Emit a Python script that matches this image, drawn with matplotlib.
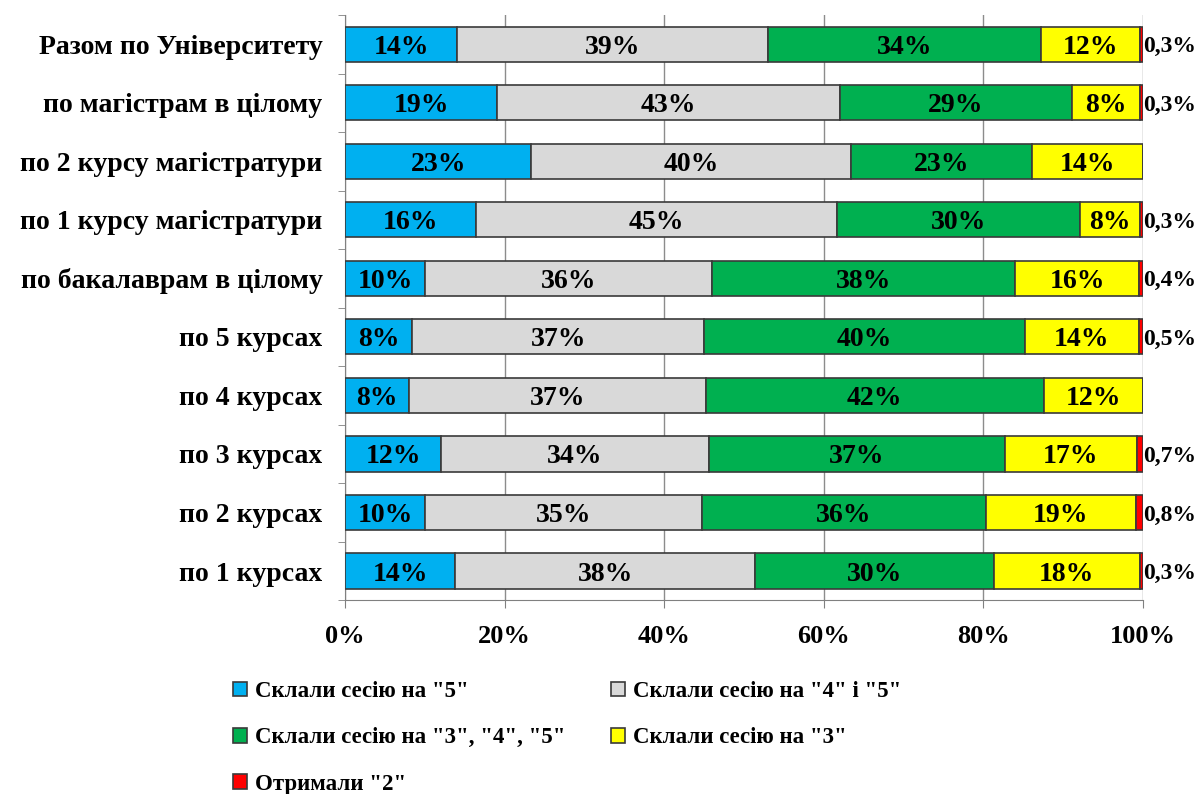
import numpy as np
import matplotlib
matplotlib.use('Agg')
import matplotlib.pyplot as plt
from matplotlib.ticker import FixedLocator, PercentFormatter

plt.rcParams['font.family'] = ['Liberation Serif', 'DejaVu Serif']
plt.rcParams['font.weight'] = 'bold'

# Категорії (знизу вгору, як на графіку)
categories = ['по 1 курсах', 'по 2 курсах', 'по 3 курсах', 'по 4 курсах',
              'по 5 курсах', 'по бакалаврам в цілому',
              'по 1 курсу магістратури', 'по 2 курсу магістратури',
              'по магістрам в цілому', 'Разом по Університету']

# Частки, %
otl = [13.8, 10.0, 12.0, 8.0, 8.4, 10.0, 16.4, 23.3, 19.0, 14.0]
dobre = [37.6, 34.7, 33.6, 37.2, 36.6, 36.0, 45.3, 40.1, 43.0, 39.0]
zmish = [29.9, 35.6, 37.1, 42.4, 40.2, 38.0, 30.4, 22.7, 29.2, 34.2]
triyky = [18.4, 18.9, 16.6, 12.4, 14.3, 15.6, 7.6, 13.9, 8.5, 12.5]
dviyky = [0.3, 0.8, 0.7, 0.0, 0.5, 0.4, 0.3, 0.0, 0.3, 0.3]

series = [otl, dobre, zmish, triyky, dviyky]
names = ['Склали сесію на "5"', 'Склали сесію на "4" і "5"',
         'Склали сесію на "3", "4", "5"', 'Склали сесію на "3"',
         'Отримали "2"']
colors = ['#00B0F0', '#D9D9D9', '#00B050', '#FFFF00', '#FF0000']

fig = plt.figure(figsize=(11.99, 7.94), dpi=100)
ax = fig.add_axes([0.288, 0.244, 0.665, 0.737])

y = np.arange(len(categories))
left = np.zeros(len(categories))
handles = []
for i, (vals, nm, c) in enumerate(zip(series, names, colors)):
    vals = np.array(vals)
    b = ax.barh(y, vals, left=left, height=0.6, color=c, edgecolor='#3A3A3A',
                linewidth=1.2, label=nm, zorder=3)
    handles.append(b)
    for yy, l, v in zip(y, left, vals):
        if i < 4:
            ax.text(l + v / 2, yy, '{:.0f}%'.format(v), ha='center',
                    va='center_baseline', fontsize=20, fontweight='bold',
                    zorder=4)
        elif v > 0:
            ax.text(100.0, yy, '{:.1f}%'.format(v).replace('.', ','),
                    ha='left', va='center_baseline', fontsize=17,
                    fontweight='bold', zorder=4, clip_on=False)
    left = left + vals

ax.set_xlim(0, 100)
ax.set_ylim(-0.5, len(categories) - 0.5)
ax.set_xticks(np.arange(0, 101, 20))
ax.xaxis.set_major_formatter(PercentFormatter(decimals=0))
ax.set_yticks(y)
ax.set_yticklabels(categories)
ax.yaxis.set_minor_locator(FixedLocator(np.arange(-0.5, len(categories), 1.0)))
ax.tick_params(axis='y', which='major', length=0, pad=16.5, labelsize=20)
ax.tick_params(axis='y', which='minor', length=5, color='#808080')
ax.tick_params(axis='x', length=6, color='#808080', labelsize=19, pad=12)
for lab in ax.get_xticklabels() + ax.get_yticklabels():
    lab.set_fontweight('bold')

ax.grid(axis='x', color='#8C8C8C', linewidth=1.0, zorder=0)
ax.set_axisbelow(True)
for s in ['top', 'right']:
    ax.spines[s].set_visible(False)
ax.spines['left'].set_color('#808080')
ax.spines['bottom'].set_color('#808080')

order = [0, 2, 4, 1, 3]
leg = fig.legend([handles[k] for k in order], [names[k] for k in order],
                 loc='upper left', bbox_to_anchor=(0.177, 0.168), ncol=2,
                 frameon=False, handlelength=0.6, handleheight=0.6,
                 handletextpad=0.35, columnspacing=2.0, labelspacing=1.1,
                 prop={'weight': 'bold', 'size': 16.5})

fig.savefig('out.png', dpi=100, facecolor='white')
